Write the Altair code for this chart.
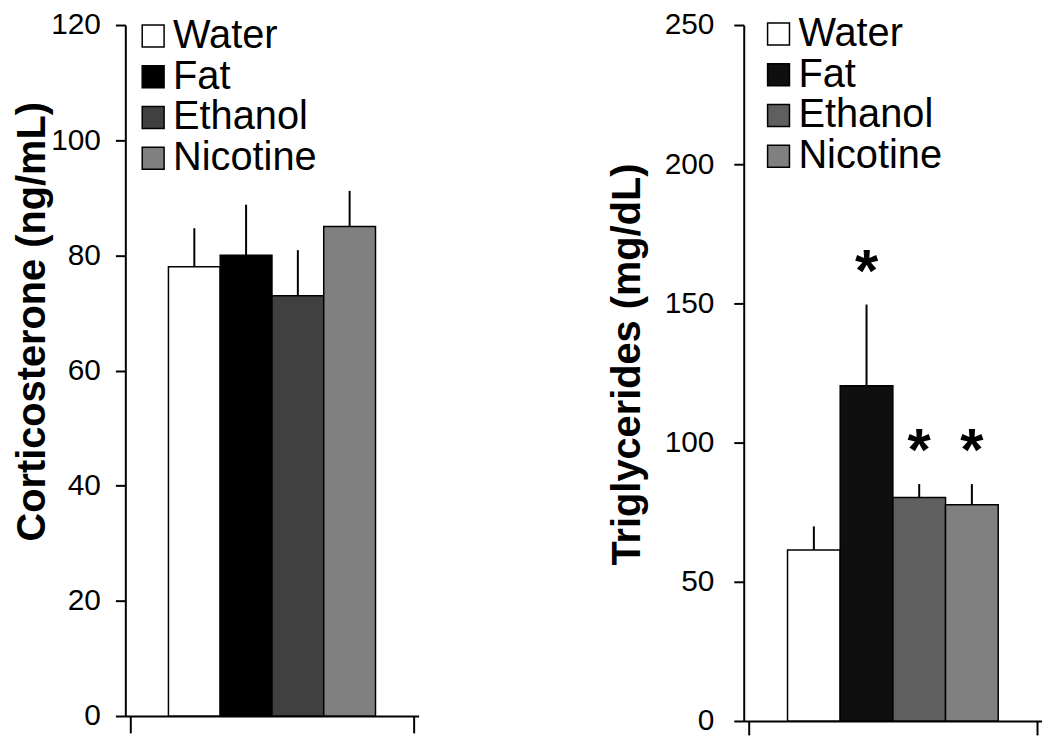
import altair as alt
import pandas as pd

groups = ["Water", "Fat", "Ethanol", "Nicotine"]
cort_mean = [78.0, 80.0, 73.0, 85.0]
cort_sem = [6.7, 8.8, 7.9, 6.2]
trig_mean = [61.4, 120.4, 80.3, 77.7]
trig_sem = [8.5, 29.2, 4.8, 7.4]
trig_sig = ["", "*", "*", "*"]
cort_ticks = [0, 20, 40, 60, 80, 100, 120]
trig_ticks = [0, 50, 100, 150, 200, 250]
cort_colors = ["#ffffff", "#000000", "#404040", "#808080"]
trig_colors = ["#ffffff", "#0f0f0f", "#5f5f5f", "#808080"]
cort_title = "Corticosterone (ng/mL)"
trig_title = "Triglycerides (mg/dL)"

FONT = "Liberation Sans"
OUTER = 0.737  # empty space on each side of the bar group, in bar widths


def panel(mean, sem, sig, ticks, colors, title, width, height,
          legend_x, legend_y, title_x, title_y, xtick, label_pad):
    n = len(groups)
    df = pd.DataFrame({"group": groups, "mean": mean, "sem": sem, "sig": sig})
    df["upper"] = df["mean"] + df["sem"]
    df["lo"] = range(n)
    df["hi"] = df["lo"] + 1
    df["mid"] = df["lo"] + 0.5
    base = alt.Chart(df)
    xdom = [-OUTER, n + OUTER]
    xscale = alt.Scale(domain=xdom, nice=False, zero=False)
    xaxis = alt.Axis(values=xdom, labels=False, title=None, tickSize=xtick,
                     tickWidth=2, tickColor="black", domain=True, domainWidth=2,
                     domainColor="black", grid=False)
    yscale = alt.Scale(domain=[ticks[0], ticks[-1]], nice=False, zero=True)
    yaxis = alt.Axis(values=ticks, title=title, titleFont=FONT, titleFontSize=40,
                     titleFontWeight="bold", titleColor="black",
                     titleX=title_x, titleY=title_y,
                     labelFont=FONT, labelFontSize=30, labelColor="black",
                     labelPadding=label_pad, tickSize=10, tickWidth=2, tickColor="black",
                     domainWidth=2, domainColor="black", grid=False)
    bars = base.mark_bar(stroke="black", strokeWidth=1.5, orient="vertical").encode(
        x=alt.X("lo:Q", scale=xscale, axis=xaxis),
        x2="hi:Q",
        y=alt.Y("mean:Q", scale=yscale, axis=yaxis),
        y2=alt.Y2(datum=0),
        color=alt.Color("group:N", sort=groups,
                        scale=alt.Scale(domain=groups, range=colors),
                        legend=alt.Legend(orient="none", legendX=legend_x, legendY=legend_y,
                                          title=None, symbolType="square", symbolSize=484,
                                          symbolStrokeColor="black", symbolStrokeWidth=1.5,
                                          symbolOpacity=1,
                                          labelFont=FONT, labelFontSize=40, labelColor="black",
                                          rowPadding=1, labelOffset=0, padding=0)),
    )
    errs = base.mark_rule(color="black", strokeWidth=2).encode(
        x=alt.X("mid:Q", scale=xscale),
        y=alt.Y("mean:Q", scale=yscale),
        y2="upper:Q",
    )
    layers = [bars, errs]
    if any(s for s in sig):
        stars = base.mark_text(font=FONT, fontSize=60, fontWeight="bold",
                               baseline="alphabetic", dy=-14, color="black").encode(
            x=alt.X("mid:Q", scale=xscale),
            y=alt.Y("upper:Q", scale=yscale),
            text="sig:N",
        )
        layers.append(stars)
    return alt.layer(*layers).properties(width=width, height=height)


left = panel(cort_mean, cort_sem, [""] * 4, cort_ticks, cort_colors, cort_title,
             295, 695, 8, -9, -73, 298, 17, 15)
right = panel(trig_mean, trig_sem, trig_sig, trig_ticks, trig_colors, trig_title,
              300, 700, 15, -11, -97, 341, 14, 20)

chart = alt.hconcat(left, right, spacing=190).resolve_scale(
    color="independent").properties(
    padding={"top": 0, "left": 5, "right": 0, "bottom": 0}
).configure_view(stroke=None)

chart.save("out.html", embed_options={"renderer": "svg", "actions": False})
